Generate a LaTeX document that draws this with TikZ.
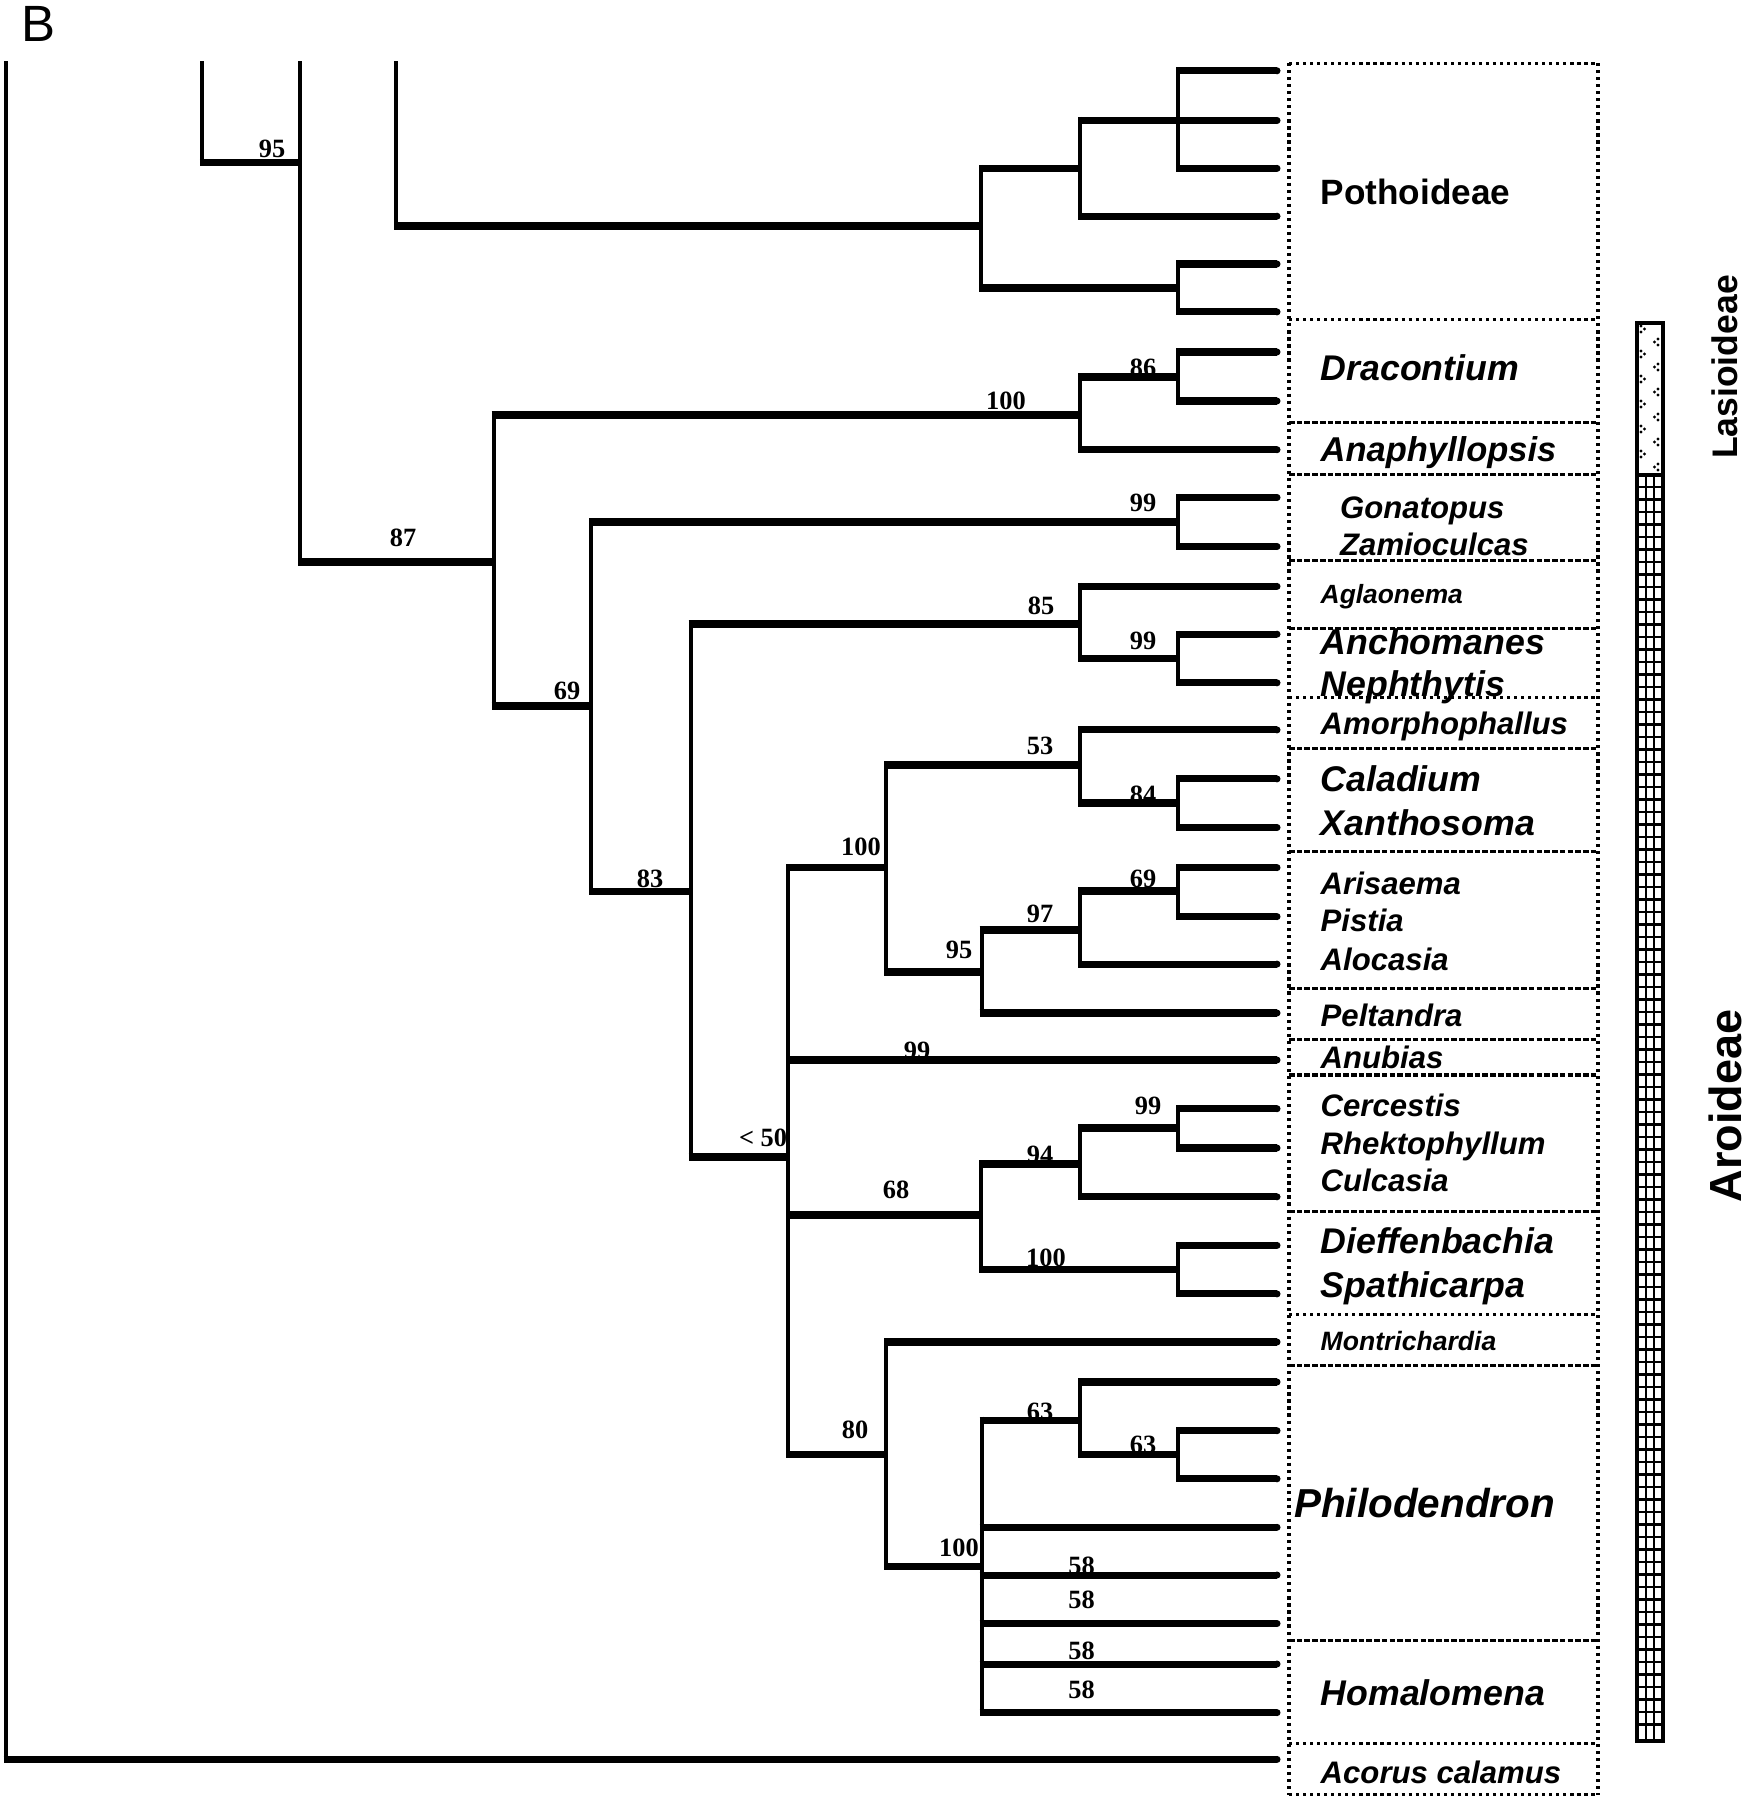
\documentclass[tikz,border=0pt]{standalone}
\usepackage{fontspec}
\setmainfont{Liberation Serif}
\newfontfamily\arialf{Liberation Sans}
\tikzset{
  hbr/.style={line width=2pt},
  vbr/.style={line width=1.15pt, shorten <=-1pt, shorten >=-1pt},
  bs/.style={inner sep=0pt, font=\bfseries\fontsize{7.5}{9}\selectfont},
  tx/.style={anchor=base west, inner sep=0pt, font=\arialf\bfseries\itshape\fontsize{#1}{#1}\selectfont},
  dotl/.style={line width=0.9pt, dash pattern=on 0.9pt off 1.1pt},
  dashl/.style={line width=0.9pt, dash pattern=on 1.6pt off 0.6pt},
  barl/.style={line width=1.1pt},
  gridl/.style={line width=0.6pt}
}
\begin{document}
\begin{tikzpicture}[x=0.01cm,y=-0.01cm]
\useasboundingbox (0,0) rectangle (1747,1800);
% tips
\foreach \n/\yy in {1/70.8,2/120.5,3/168.4,4/216.2,5/264,6/311.9,7/352,8/401,9/449.7,10/497.5,11/546.5,12/586.4,13/634.2,14/682.8,15/729.9,16/778.9,17/827.5,18/867.6,19/916.6,20/964.1,21/1013,22/1060,23/1108.7,24/1148,25/1196.8,26/1245.4,27/1293.9,28/1342,29/1382,30/1430.7,31/1478.8,32/1527.3,33/1575,34/1623.5,35/1664,36/1712.6,37/1759.4}
  \coordinate (t\n) at (1277,\yy);
% internal nodes
\coordinate (P1) at (1178,120.5);
\coordinate (P2) at (1080,168.4);
\coordinate (P3) at (1178,288);
\coordinate (P4) at (981,226);
\coordinate (N396) at (396,226);
\coordinate (D1) at (1178,377);
\coordinate (D2) at (1080,415);
\coordinate (G1) at (1178,522);
\coordinate (A1) at (1178,658.5);
\coordinate (A2) at (1080,624);
\coordinate (C1) at (1178,803);
\coordinate (C2) at (1080,765);
\coordinate (R1) at (1178,891);
\coordinate (R2) at (1080,930);
\coordinate (R3) at (981.6,972);
\coordinate (R4) at (886.3,867.6);
\coordinate (K1) at (1178,1128);
\coordinate (K2) at (1080,1164);
\coordinate (K3) at (1178,1269.6);
\coordinate (K4) at (981,1215);
\coordinate (H1) at (1178,1454.7);
\coordinate (H2) at (1080,1420);
\coordinate (H3) at (981.6,1566.7);
\coordinate (H4) at (886.3,1454.7);
\coordinate (Q) at (788,1157);
\coordinate (Z1) at (690.7,891.8);
\coordinate (Z2) at (591,706);
\coordinate (Z3) at (493.7,562);
\coordinate (N300) at (300.4,162.6);
\coordinate (N202) at (202,162.6);
\coordinate (Root) at (5.7,1759.4);
\coordinate (c396) at (396,65);
\coordinate (c300) at (300.4,65);
\coordinate (c202) at (202,65);
\coordinate (c5) at (5.7,65);
% vertical parts
\foreach \p/\a/\b in {P1/t1/t3,P2/P1/t4,P3/t5/t6,P4/P2/P3,D1/t7/t8,D2/D1/t9,G1/t10/t11,A1/t13/t14,A2/t12/A1,C1/t16/t17,C2/t15/C1,R1/t18/t19,R2/R1/t20,R3/R2/t21,R4/C2/R3,K1/t23/t24,K2/K1/t25,K3/t26/t27,K4/K2/K3,H1/t30/t31,H2/t29/H1,H3/H2/t36,H4/t28/H3,Q/R4/H4,Z1/A2/Q,Z2/G1/Z1,Z3/D2/Z2,N396/c396/N396,N300/c300/Z3,N202/c202/N300,Root/c5/t37}
  \draw[vbr] (\p |- \a) -- (\p |- \b);
% horizontal parts
\foreach \p/\c in {P1/t1,P1/t2,P1/t3,P2/P1,P2/t4,P3/t5,P3/t6,P4/P2,P4/P3,N396/P4,D1/t7,D1/t8,D2/D1,D2/t9,G1/t10,G1/t11,A1/t13,A1/t14,A2/t12,A2/A1,C1/t16,C1/t17,C2/t15,C2/C1,R1/t18,R1/t19,R2/R1,R2/t20,R3/R2,R3/t21,R4/C2,R4/R3,K1/t23,K1/t24,K2/K1,K2/t25,K3/t26,K3/t27,K4/K2,K4/K3,H1/t30,H1/t31,H2/t29,H2/H1,H3/H2,H3/t32,H3/t33,H3/t34,H3/t35,H3/t36,H4/t28,H4/H3,Q/R4,Q/t22,Q/K4,Q/H4,Z1/A2,Z1/Q,Z2/G1,Z2/Z1,Z3/D2,Z3/Z2,N300/Z3,N202/N300,Root/t37}
  \draw[hbr] ([xshift=-0.57pt]\p |- \c) -- (\c);
% rounded tip ends
\foreach \n in {1,...,37}
  \fill (t\n) circle (1pt);
% bootstrap values
\node[bs] (b95a) at (272,148.4) {95};
\node[bs] (b87) at (403,538) {87};
\node[bs] (b100a) at (1006,401) {100};
\node[bs] (b86) at (1143,368) {86};
\node[bs] (b99a) at (1143,503) {99};
\node[bs] (b69a) at (567,691) {69};
\node[bs] (b83) at (650,879) {83};
\node[bs] (b85) at (1041,606) {85};
\node[bs] (b99b) at (1143,641) {99};
\node[bs] (b53) at (1040,746) {53};
\node[bs] (b84) at (1143,795) {84};
\node[bs] (b100b) at (861,846.5) {100};
\node[bs] (b69b) at (1143,879) {69};
\node[bs] (b97) at (1040,914) {97};
\node[bs] (b95b) at (959,950) {95};
\node[bs] (b99c) at (917,1051) {99};
\node[bs] (b99d) at (1148,1106) {99};
\node[bs] (b50) at (763,1138) {< 50};
\node[bs] (b94) at (1040,1155) {94};
\node[bs] (b68) at (896,1189.4) {68};
\node[bs] (b100c) at (1046,1258) {100};
\node[bs] (b80) at (855,1429.5) {80};
\node[bs] (b63a) at (1040,1412) {63};
\node[bs] (b63b) at (1143,1445) {63};
\node[bs] (b100d) at (959,1548) {100};
\node[bs] (b58a) at (1081.6,1566) {58};
\node[bs] (b58b) at (1081.6,1599.5) {58};
\node[bs] (b58c) at (1081.6,1651) {58};
\node[bs] (b58d) at (1081.6,1689.5) {58};
% dotted box
\draw[dotl] (1289,63.1) -- (1289,1794.7);
\draw[dotl] (1598,63.1) -- (1598,1794.7);
\foreach \yy in {63.1,319.6,697.3,1314.6,1743.7,1794.7}
  \draw[dotl] (1289,\yy) -- (1598,\yy);
\foreach \yy in {422.9,474.6,560.7,628.5,748.2,851.6,988.2,1039.9,1075,1211.4,1365.6,1640.5}
  \draw[dashl] (1289,\yy) -- (1598,\yy);
% taxon names
\node[anchor=base west, inner sep=0pt, font=\arialf\bfseries\fontsize{10}{10}\selectfont] (poth) at (1320,204.7) {Pothoideae};
\node[tx=10.15] (dracontium) at (1320,380) {Dracontium};
\node[tx=9.8] (anaphyllopsis) at (1320,461) {Anaphyllopsis};
\node[tx=8.85] (gonatopus) at (1339.5,518) {Gonatopus};
\node[tx=8.85] (zamioculcas) at (1339.5,555) {Zamioculcas};
\node[tx=7.5] (aglaonema) at (1320,603.6) {Aglaonema};
\node[tx=10.15] (anchomanes) at (1320,654) {Anchomanes};
\node[tx=10.15] (nephthytis) at (1320,696.5) {Nephthytis};
\node[tx=8.85] (amorphophallus) at (1320,734.6) {Amorphophallus};
\node[tx=10.15] (caladium) at (1320,791.5) {Caladium};
\node[tx=10.15] (xanthosoma) at (1320,835.5) {Xanthosoma};
\node[tx=8.85] (arisaema) at (1320,894) {Arisaema};
\node[tx=8.85] (pistia) at (1320,931.5) {Pistia};
\node[tx=8.85] (alocasia) at (1320,970) {Alocasia};
\node[tx=8.85] (peltandra) at (1320,1026.5) {Peltandra};
\node[tx=8.85] (anubias) at (1320,1068.6) {Anubias};
\node[tx=8.85] (cercestis) at (1320,1116.6) {Cercestis};
\node[tx=8.85] (rhektophyllum) at (1320,1154) {Rhektophyllum};
\node[tx=8.85] (culcasia) at (1320,1191.5) {Culcasia};
\node[tx=10.15] (dieffenbachia) at (1320,1253.5) {Dieffenbachia};
\node[tx=10.15] (spathicarpa) at (1320,1297) {Spathicarpa};
\node[tx=7.55] (montrichardia) at (1320,1350.5) {Montrichardia};
\node[tx=11.5] (philodendron) at (1293.5,1517.5) {Philodendron};
\node[tx=10.15] (homalomena) at (1320,1705) {Homalomena};
\node[tx=8.85] (acorus) at (1320,1783) {Acorus calamus};
% side bar: grid part
\foreach \yy in {487,499.5,...,1735}
  \draw[gridl] (1637,\yy) -- (1663,\yy);
\draw[gridl] (1645.7,474.6) -- (1645.7,1741);
\draw[gridl] (1654.3,474.6) -- (1654.3,1741);
% side bar: dotted part
\foreach \k in {0,...,5} {
  \fill (1641,326+25*\k) circle (0.45pt) (1644.5,329+25*\k) circle (0.45pt) (1641,332+25*\k) circle (0.45pt);
  \fill (1658,339+25*\k) circle (0.45pt) (1654.5,342+25*\k) circle (0.45pt) (1658,345+25*\k) circle (0.45pt);
}
\draw[barl] (1637,322.7) rectangle (1663,1741);
\draw[barl] (1637,474.6) -- (1663,474.6);
% side labels
\node[rotate=90, inner sep=0pt, font=\arialf\bfseries\fontsize{10.1}{12}\selectfont] (lasio) at (1725,367) {Lasioideae};
\node[rotate=90, inner sep=0pt, font=\arialf\bfseries\fontsize{12.8}{14}\selectfont] (aroid) at (1725,1106) {Aroideae};
% panel letter
\node[anchor=base west, inner sep=0pt, font=\arialf\fontsize{14.5}{16}\selectfont] (lblB) at (21,42) {B};
\end{tikzpicture}
\end{document}
